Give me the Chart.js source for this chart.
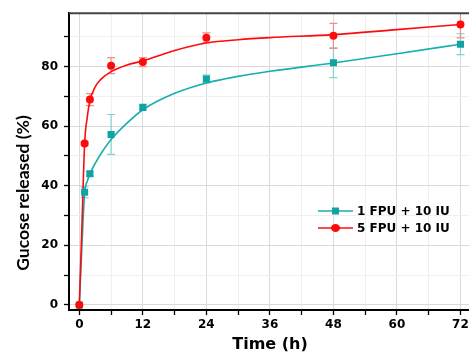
<!DOCTYPE html>
<html>
<head>
<meta charset="utf-8">
<script src="https://cdn.jsdelivr.net/npm/chart.js@4.4.1/dist/chart.umd.min.js"></script>
<style>
  html, body { margin: 0; padding: 0; background: #ffffff; overflow: hidden; width: 469px; height: 352px; }
  #wrap { position: relative; width: 475px; height: 352px; }
</style>
</head>
<body>
<div id="wrap"><canvas id="c"></canvas></div>
<script>
// ---- data ----
const time = [0, 1, 2, 6, 12, 24, 48, 72];
const glucose1FPU = [0, 37.8, 44.0, 57.2, 66.3, 75.8, 81.3, 87.5];
const err1FPU     = [0, 1.8, 0.8, 6.7, 0.8, 1.3, 5.0, 3.5];
const glucose5FPU = [0, 54.2, 68.9, 80.3, 81.5, 89.7, 90.3, 94.1];
const err5FPU     = [0, 0.6, 2.0, 2.7, 1.5, 1.6, 4.2, 4.5];

const fitTime = [0, 0.5, 1, 1.5, 2, 3, 4, 6, 9, 12, 18, 24, 30, 36, 48, 60, 72];
const fit1FPU = [0, 20, 37.5, 41.5, 44, 47.5, 50.5, 55.5, 61, 65.5, 71, 74.5, 76.7, 78.4, 81.2, 84.3, 87.5];
const fit5FPU = [0, 27, 54, 63, 68.5, 73.2, 75.6, 78.3, 80.5, 81.9, 85.4, 87.9, 89.0, 89.7, 90.7, 92.4, 94.1];

const seriesLabels = ['1 FPU + 10 IU', '5 FPU + 10 IU'];
const xTickValues = [0, 6, 12, 18, 24, 30, 36, 42, 48, 54, 60, 66, 72];
const xTickLabels = [0, 12, 24, 36, 48, 60, 72];
const yTickValues = [0, 10, 20, 30, 40, 50, 60, 70, 80, 90];
const yTickLabels = [0, 20, 40, 60, 80];
const xTitle = 'Time (h)';
const yTitle = 'Gucose released (%)';

const TEAL = '#17aeae';
const TEAL_MARK = '#0fa3a3';
const TEAL_ERR = '#7fd3d3';
const RED = '#ff0a0a';
const RED_ERR = '#f28b8b';

const pts = (xs, ys) => xs.map((x, i) => ({ x: x, y: ys[i] }));

const errorBars = {
  id: 'errorBars',
  beforeDatasetsDraw(chart) {
    const ctx = chart.ctx, xs = chart.scales.x, ys = chart.scales.y, a = chart.chartArea;
    ctx.save();
    ctx.beginPath(); ctx.rect(a.left, a.top, a.right - a.left, a.bottom - a.top); ctx.clip();
    const sets = [[glucose1FPU, err1FPU, TEAL_ERR], [glucose5FPU, err5FPU, RED_ERR]];
    sets.forEach(([vals, errs, col]) => {
      ctx.strokeStyle = col; ctx.lineWidth = 1.2;
      time.forEach((t, i) => {
        if (!errs[i]) return;
        const x = xs.getPixelForValue(t);
        const y1 = ys.getPixelForValue(vals[i] + errs[i]);
        const y2 = ys.getPixelForValue(vals[i] - errs[i]);
        ctx.beginPath();
        ctx.moveTo(x, y1); ctx.lineTo(x, y2);
        ctx.moveTo(x - 4, y1); ctx.lineTo(x + 4, y1);
        ctx.moveTo(x - 4, y2); ctx.lineTo(x + 4, y2);
        ctx.stroke();
      });
    });
    ctx.restore();
  }
};

const decorations = {
  id: 'decorations',
  afterDraw(chart) {
    const ctx = chart.ctx, a = chart.chartArea;
    ctx.save();
    // top frame line
    ctx.strokeStyle = '#444'; ctx.lineWidth = 2;
    ctx.beginPath(); ctx.moveTo(a.left, a.top); ctx.lineTo(chart.width, a.top); ctx.stroke();
    // y title
    ctx.fillStyle = '#000';
    ctx.font = 'bold 17.5px Lato';
    ctx.textAlign = 'center'; ctx.textBaseline = 'middle';
    ctx.translate(23, 193); ctx.rotate(-Math.PI / 2);
    ctx.fillText(yTitle, 0, 0);
    ctx.restore();

    ctx.save();
    ctx.fillStyle = '#000';
    ctx.font = 'bold 16px "DejaVu Sans"';
    ctx.textAlign = 'center'; ctx.textBaseline = 'alphabetic';
    ctx.fillText(xTitle, 270, 349);
    // legend
    const rows = [[TEAL, TEAL_MARK, 'rect', 211], [RED, RED, 'circle', 228]];
    ctx.font = 'bold 12px "DejaVu Sans"';
    ctx.textAlign = 'left'; ctx.textBaseline = 'middle';
    rows.forEach(([lc, mc, shape, y], i) => {
      ctx.strokeStyle = lc; ctx.lineWidth = 1.5;
      ctx.beginPath(); ctx.moveTo(318, y); ctx.lineTo(353, y); ctx.stroke();
      ctx.fillStyle = mc;
      if (shape === 'rect') { ctx.fillRect(332, y - 3.5, 7, 7); }
      else { ctx.beginPath(); ctx.ellipse(335.5, y, 4.5, 4, 0, 0, Math.PI * 2); ctx.fill(); }
      ctx.fillStyle = '#000';
      ctx.fillText(seriesLabels[i], 357, y + 0.5);
    });
    ctx.restore();
  }
};

const tickFont = { family: 'DejaVu Sans', size: 12, weight: 'bold' };

new Chart(document.getElementById('c'), {
  type: 'scatter',
  data: {
    datasets: [
      { label: seriesLabels[1], data: pts(time, glucose5FPU), backgroundColor: RED, borderColor: RED,
        pointStyle: 'circle', pointRadius: 4, borderWidth: 0, showLine: false },
      { label: seriesLabels[0], data: pts(time, glucose1FPU), backgroundColor: TEAL_MARK, borderColor: TEAL_MARK,
        pointStyle: 'rect', pointRadius: 5, borderWidth: 0, showLine: false },
      { label: 'fit5', data: pts(fitTime, fit5FPU), borderColor: RED, borderWidth: 1.6, pointRadius: 0,
        showLine: true, cubicInterpolationMode: 'monotone', fill: false },
      { label: 'fit1', data: pts(fitTime, fit1FPU), borderColor: TEAL, borderWidth: 1.6, pointRadius: 0,
        showLine: true, cubicInterpolationMode: 'monotone', fill: false }
    ]
  },
  options: {
    responsive: true, maintainAspectRatio: false, animation: false, devicePixelRatio: 1,
    layout: { padding: { top: 13, right: 0, bottom: 0, left: 0 } },
    plugins: { legend: { display: false }, tooltip: { enabled: false } },
    scales: {
      x: {
        type: 'linear', min: -1.95, max: 73.8,
        afterBuildTicks: s => { s.ticks = xTickValues.map(v => ({ value: v })); },
        afterFit: s => { s.height = 42; },
        ticks: { font: tickFont, color: '#000', padding: 3, maxRotation: 0, autoSkip: false,
          callback: v => xTickLabels.includes(v) ? String(v) : '' },
        grid: { color: c => (c.tick && c.tick.value % 12 === 0) ? '#dadada' : '#efefef',
          lineWidth: 1, tickLength: 5, tickColor: '#000', tickWidth: 1.3 },
        border: { color: '#000', width: 2 }
      },
      y: {
        type: 'linear', min: -1.7, max: 97.9,
        afterBuildTicks: s => { s.ticks = yTickValues.map(v => ({ value: v })); },
        afterFit: s => { s.width = 69; },
        ticks: { font: tickFont, color: '#000', padding: 6, autoSkip: false,
          callback: v => yTickLabels.includes(v) ? String(v) : '' },
        grid: { color: c => (c.tick && c.tick.value % 20 === 0) ? '#dadada' : '#efefef',
          lineWidth: 1, tickLength: 5, tickColor: '#000', tickWidth: 1.3 },
        border: { color: '#000', width: 2 }
      }
    }
  },
  plugins: [errorBars, decorations]
});
</script>
</body>
</html>
